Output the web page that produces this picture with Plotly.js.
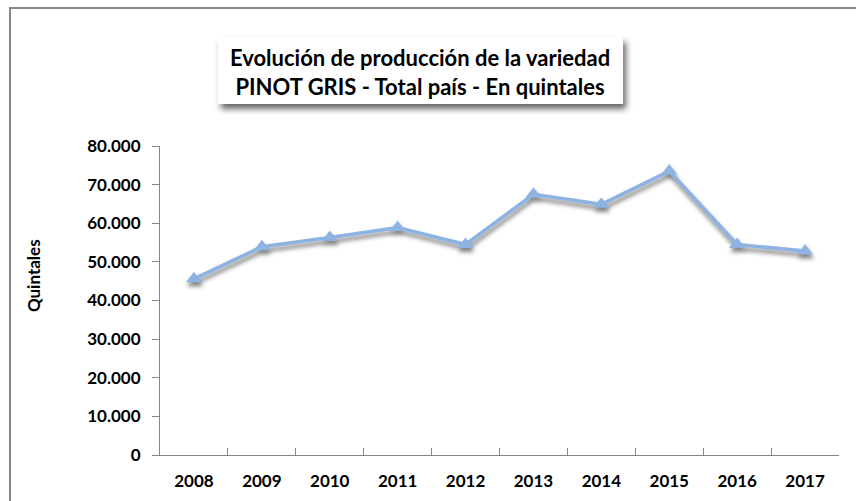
<!DOCTYPE html>
<html>
<head>
<meta charset="utf-8">
<script src="https://cdn.plot.ly/plotly-3.0.1.min.js"></script>
<style>
  html, body { margin: 0; padding: 0; background: #fff; }
  #wrap { position: relative; width: 856px; height: 501px; overflow: hidden; }
  #chart { width: 856px; height: 501px; }
  #frame { position: absolute; left: 9px; top: 7px; width: 900px; height: 600px;
           border-left: 2px solid #878787; border-top: 2px solid #878787; pointer-events: none; }
  .scatterlayer .trace { filter: drop-shadow(1px 4px 2px rgba(0,0,0,0.5)); }
  .shapelayer path { filter: drop-shadow(3px 5px 3px rgba(0,0,0,0.6)); }
</style>
</head>
<body>
<div id="wrap">
  <div id="chart"></div>
  <div id="frame"></div>
</div>
<script>
const years = ["2008","2009","2010","2011","2012","2013","2014","2015","2016","2017"];
const quintales = [45600, 53900, 56300, 58900, 54500, 67500, 64900, 73500, 54500, 52800];
const yTicks = [0, 10000, 20000, 30000, 40000, 50000, 60000, 70000, 80000];
const titleText = "Evolución de producción de la variedad<br>PINOT GRIS - Total país - En quintales";
const yTitle = "Quintales";

const FONT = "Lato, 'Open Sans', sans-serif";
const axisColor = "#868686";

const trace = {
  x: years,
  y: quintales,
  type: "scatter",
  mode: "lines+markers",
  line: { color: "#8DB3E2", width: 3.5 },
  marker: { symbol: "triangle-up", size: 14, color: "#8DB3E2" },
  hoverinfo: "x+y"
};

const layout = {
  width: 856,
  height: 501,
  margin: { l: 160, r: 17, t: 146, b: 46 },
  paper_bgcolor: "#ffffff",
  plot_bgcolor: "#ffffff",
  separators: ",.",
  showlegend: false,
  font: { family: FONT, color: "#000000" },
  title: {
    text: titleText,
    font: { family: FONT, size: 22, color: "#000000", weight: "bold" },
    xref: "paper",
    x: 0.383,
    xanchor: "center",
    yref: "container",
    y: 0.868,
    yanchor: "middle"
  },
  shapes: [{
    type: "rect",
    xref: "paper", yref: "paper",
    x0: 0.0854, x1: 0.682,
    y0: 1.136, y1: 1.352,
    fillcolor: "#ffffff",
    line: { width: 0 },
    layer: "above"
  }],
  annotations: [{
    text: yTitle,
    xref: "paper", yref: "paper",
    x: -0.187, y: 0.579,
    xanchor: "center", yanchor: "middle",
    textangle: -90,
    showarrow: false,
    font: { family: FONT, size: 17, color: "#000000", weight: "bold" }
  }],
  xaxis: {
    type: "category",
    range: [-0.5, 9.5],
    showgrid: false,
    zeroline: false,
    showline: true,
    linecolor: axisColor,
    linewidth: 1,
    ticks: "inside",
    tickson: "boundaries",
    ticklen: 7,
    tickcolor: axisColor,
    ticklabelstandoff: 11,
    tickfont: { family: FONT, size: 17, color: "#000000", weight: "bold" },
    fixedrange: true
  },
  yaxis: {
    range: [0, 80000],
    tickvals: yTicks,
    tickformat: ",d",
    showgrid: false,
    zeroline: false,
    showline: true,
    linecolor: axisColor,
    linewidth: 1,
    ticks: "outside",
    ticklen: 7,
    tickcolor: axisColor,
    ticklabelstandoff: 8,
    tickfont: { family: FONT, size: 17, color: "#000000", weight: "bold" },
    fixedrange: true
  }
};

Plotly.newPlot("chart", [trace], layout, { displayModeBar: false, staticPlot: true });
</script>
</body>
</html>
